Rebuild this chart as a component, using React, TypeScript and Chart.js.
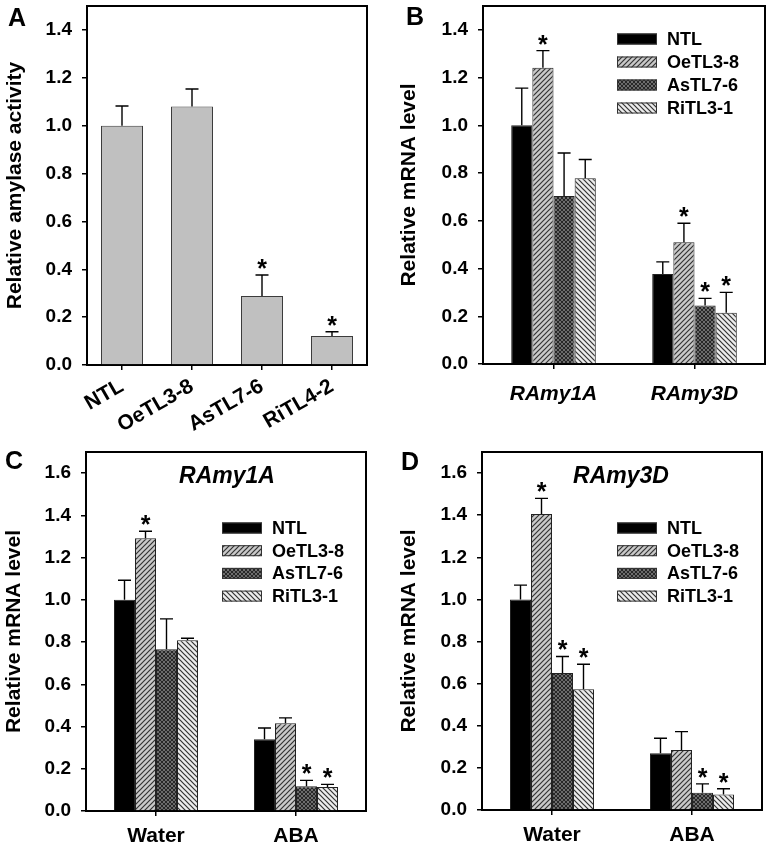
import React, { useEffect, useRef } from 'react';
import { Chart, registerables } from 'chart.js';

Chart.register(...registerables);

const FONT = '"Liberation Sans", Arial, Helvetica, sans-serif';

// ---------- Data ----------
const seriesNames = ['NTL', 'OeTL3-8', 'AsTL7-6', 'RiTL3-1'];

// Panel A
const aCategories = ['NTL', 'OeTL3-8', 'AsTL7-6', 'RiTL4-2'];
const aValues = [1.0, 1.08, 0.288, 0.121];
const aErrors = [0.082, 0.073, 0.088, 0.018];
const aSignificant = [false, false, true, true];

// Panel B (rows follow seriesNames)
const bCategories = ['RAmy1A', 'RAmy3D'];
const bValues = [[1.0, 0.377], [1.241, 0.51], [0.704, 0.245], [0.778, 0.215]];
const bErrors = [[0.156, 0.051], [0.072, 0.08], [0.18, 0.03], [0.079, 0.085]];
const bSignificant = [[false, false], [true, true], [false, true], [false, true]];

// Panel C (RAmy1A)
const cCategories = ['Water', 'ABA'];
const cValues = [[1.0, 0.34], [1.292, 0.415], [0.766, 0.117], [0.809, 0.114]];
const cErrors = [[0.093, 0.053], [0.033, 0.026], [0.144, 0.028], [0.009, 0.012]];
const cSignificant = [[false, false], [true, false], [false, true], [false, true]];

// Panel D (RAmy3D)
const dCategories = ['Water', 'ABA'];
const dValues = [[1.0, 0.269], [1.405, 0.285], [0.65, 0.082], [0.573, 0.074]];
const dErrors = [[0.068, 0.072], [0.075, 0.087], [0.079, 0.042], [0.119, 0.027]];
const dSignificant = [[false, false], [true, false], [true, true], [true, true]];

const yTickStep = 0.2;

// ---------- Patterns ----------
function makePattern(kind: string): any {
  if (kind === 'solid') return '#000000';
  if (kind === 'grey') return '#c0c0c0';
  const s = kind === 'cross' ? 4 : 5;
  const c = document.createElement('canvas');
  c.width = s;
  c.height = s;
  const g = c.getContext('2d')!;
  const bg = kind === 'fwd' ? '#c9c9c9' : kind === 'cross' ? '#8c8c8c' : '#ececec';
  const fg = kind === 'cross' ? '#262626' : '#333333';
  g.fillStyle = bg;
  g.fillRect(0, 0, s, s);
  g.strokeStyle = fg;
  g.lineWidth = 1.2;
  const fwd = () => {
    g.beginPath();
    g.moveTo(-1, 1); g.lineTo(1, -1);
    g.moveTo(0, s); g.lineTo(s, 0);
    g.moveTo(s - 1, s + 1); g.lineTo(s + 1, s - 1);
    g.stroke();
  };
  const back = () => {
    g.beginPath();
    g.moveTo(-1, s - 1); g.lineTo(1, s + 1);
    g.moveTo(0, 0); g.lineTo(s, s);
    g.moveTo(s - 1, -1); g.lineTo(s + 1, 1);
    g.stroke();
  };
  if (kind === 'fwd') fwd();
  else if (kind === 'back') back();
  else { fwd(); back(); }
  return g.createPattern(c, 'repeat');
}

const seriesFills = ['solid', 'fwd', 'cross', 'back'];

// ---------- Plugins ----------
function errorBarPlugin(cap: number) {
  return {
    id: 'errorBars',
    afterDatasetsDraw(chart: any) {
      const ctx = chart.ctx;
      const ys = chart.scales.y;
      chart.data.datasets.forEach((ds: any, i: number) => {
        const meta = chart.getDatasetMeta(i);
        meta.data.forEach((bar: any, j: number) => {
          const v = ds.data[j];
          const e = ds.errorPlus[j];
          const top = ys.getPixelForValue(v + e);
          const x = bar.x;
          ctx.save();
          ctx.strokeStyle = '#000';
          ctx.lineWidth = 1.4;
          ctx.beginPath();
          ctx.moveTo(x, bar.y);
          ctx.lineTo(x, top);
          ctx.moveTo(x - cap / 2, top);
          ctx.lineTo(x + cap / 2, top);
          ctx.stroke();
          if (ds.significant[j]) {
            ctx.fillStyle = '#000';
            ctx.font = `bold 25px ${FONT}`;
            ctx.textAlign = 'center';
            ctx.textBaseline = 'alphabetic';
            ctx.fillText('*', x, top + 2);
          }
          ctx.restore();
        });
      });
    },
  };
}

function decorPlugin(spec: any) {
  return {
    id: 'decor',
    afterDraw(chart: any) {
      const ctx = chart.ctx;
      const a = chart.chartArea;
      ctx.save();
      // box: top and right edges
      ctx.strokeStyle = '#000';
      ctx.lineWidth = 2;
      ctx.beginPath();
      ctx.moveTo(a.left - 1, a.top);
      ctx.lineTo(a.right, a.top);
      ctx.lineTo(a.right, a.bottom + 1);
      ctx.stroke();
      // panel letter
      ctx.fillStyle = '#000';
      ctx.font = `bold 25px ${FONT}`;
      ctx.textAlign = 'left';
      ctx.textBaseline = 'alphabetic';
      ctx.fillText(spec.letter, spec.letterX, spec.letterY);
      // heading
      if (spec.heading) {
        ctx.font = `italic bold 23px ${FONT}`;
        ctx.textAlign = 'center';
        ctx.textBaseline = 'middle';
        ctx.fillText(spec.heading, spec.headingX, spec.headingY);
      }
      // legend
      if (spec.legend) {
        const L = spec.legend;
        chart.data.datasets.forEach((ds: any, i: number) => {
          const cy = L.y + i * L.dy;
          ctx.fillStyle = ds.backgroundColor;
          ctx.fillRect(L.x, cy - L.h / 2, L.w, L.h);
          ctx.strokeStyle = '#333';
          ctx.lineWidth = 1;
          ctx.strokeRect(L.x + 0.5, cy - L.h / 2 + 0.5, L.w - 1, L.h - 1);
          ctx.fillStyle = '#000';
          ctx.font = `bold 18px ${FONT}`;
          ctx.textAlign = 'left';
          ctx.textBaseline = 'middle';
          ctx.fillText(ds.label, L.textX, cy + 1);
        });
      }
      ctx.restore();
    },
  };
}

// ---------- Panel specs ----------
const specs: any[] = [
  {
    key: 'A', left: 0, top: 0, width: 384, height: 440,
    yAxisWidth: 87, xAxisHeight: 75, padTop: 6, padRight: 17,
    yMax: 1.5, yTitle: 'Relative amylase activity', titlePad: 3,
    xRotation: 30, xPad: 4, xItalic: false, cap: 13,
    letter: 'A', letterX: 8, letterY: 26,
    barPct: 0.6, catPct: 1.0,
  },
  {
    key: 'B', left: 384, top: 0, width: 384, height: 440,
    yAxisWidth: 99, xAxisHeight: 76, padTop: 6, padRight: 3,
    yMax: 1.5, yTitle: 'Relative mRNA level', titlePad: 13,
    xRotation: 0, xPad: 13, xItalic: true, cap: 13,
    letter: 'B', letterX: 22, letterY: 25,
    legend: { x: 233, y: 39, dy: 23, w: 40, h: 11, textX: 283 },
    barPct: 1.0, catPct: 0.6,
  },
  {
    key: 'C', left: 0, top: 420, width: 384, height: 432,
    yAxisWidth: 86, xAxisHeight: 41, padTop: 32, padRight: 18,
    yMax: 1.7, yTitle: 'Relative mRNA level', titlePad: 2,
    xRotation: 0, xPad: 8, xItalic: false, cap: 13,
    letter: 'C', letterX: 5, letterY: 49,
    heading: 'RAmy1A', headingX: 227, headingY: 57,
    legend: { x: 222, y: 108, dy: 22.7, w: 40, h: 11, textX: 272 },
    barPct: 1.0, catPct: 0.6,
  },
  {
    key: 'D', left: 384, top: 420, width: 384, height: 432,
    yAxisWidth: 98, xAxisHeight: 42, padTop: 32, padRight: 6,
    yMax: 1.7, yTitle: 'Relative mRNA level', titlePad: 13,
    xRotation: 0, xPad: 8, xItalic: false, cap: 13,
    letter: 'D', letterX: 17, letterY: 50,
    heading: 'RAmy3D', headingX: 237, headingY: 57,
    legend: { x: 233, y: 108, dy: 22.7, w: 40, h: 11, textX: 283 },
    barPct: 1.0, catPct: 0.6,
  },
];

function buildData(key: string) {
  if (key === 'A') {
    return {
      labels: aCategories,
      datasets: [{
        label: 'Relative amylase activity',
        data: aValues,
        errorPlus: aErrors,
        significant: aSignificant,
        backgroundColor: makePattern('grey'),
        borderColor: '#3c3c3c',
        borderWidth: 1,
      }],
    };
  }
  const src: any = {
    B: [bCategories, bValues, bErrors, bSignificant],
    C: [cCategories, cValues, cErrors, cSignificant],
    D: [dCategories, dValues, dErrors, dSignificant],
  }[key];
  return {
    labels: src[0],
    datasets: seriesNames.map((name, i) => ({
      label: name,
      data: src[1][i],
      errorPlus: src[2][i],
      significant: src[3][i],
      backgroundColor: makePattern(seriesFills[i]),
      borderColor: '#222',
      borderWidth: 1,
    })),
  };
}

function buildOptions(s: any) {
  return {
    responsive: false,
    animation: false,
    devicePixelRatio: 1,
    layout: { padding: { left: 0, top: s.padTop, right: s.padRight, bottom: 0 } },
    datasets: { bar: { barPercentage: s.barPct, categoryPercentage: s.catPct } },
    plugins: { legend: { display: false }, tooltip: { enabled: false }, title: { display: false } },
    scales: {
      x: {
        type: 'category',
        offset: true,
        grid: { display: true, drawOnChartArea: false, drawTicks: true, tickLength: 5, offset: false, color: '#000', lineWidth: 1.5 },
        border: { display: true, color: '#000', width: 2 },
        ticks: {
          color: '#000',
          autoSkip: false,
          maxRotation: s.xRotation,
          minRotation: s.xRotation,
          padding: s.xPad,
          font: { family: FONT, size: 21, weight: 'bold', style: s.xItalic ? 'italic' : 'normal' },
        },
        afterFit: (sc: any) => {
          sc.height = s.xAxisHeight;
          sc.paddingLeft = 0; sc.paddingRight = 0; sc.paddingTop = 0; sc.paddingBottom = 0;
        },
      },
      y: {
        min: 0,
        max: s.yMax,
        grid: { display: true, drawOnChartArea: false, drawTicks: true, tickLength: 5, color: '#000', lineWidth: 1.5 },
        border: { display: true, color: '#000', width: 2 },
        ticks: {
          stepSize: yTickStep,
          includeBounds: false,
          color: '#000',
          padding: 10,
          font: { family: FONT, size: 19, weight: 'bold' },
          callback: (v: any) => Number(v).toFixed(1),
        },
        title: {
          display: true,
          text: s.yTitle,
          color: '#000',
          font: { family: FONT, size: 21, weight: 'bold' },
          padding: { top: s.titlePad, bottom: 0 },
        },
        afterFit: (sc: any) => {
          sc.width = s.yAxisWidth;
          sc.paddingLeft = 0; sc.paddingRight = 0; sc.paddingTop = 0; sc.paddingBottom = 0;
        },
      },
    },
  };
}

function Panel({ spec }: { spec: any }) {
  const ref = useRef<HTMLCanvasElement | null>(null);
  useEffect(() => {
    if (!ref.current) return;
    const chart = new Chart(ref.current, {
      type: 'bar',
      data: buildData(spec.key) as any,
      options: buildOptions(spec) as any,
      plugins: [errorBarPlugin(spec.cap), decorPlugin(spec)],
    });
    return () => chart.destroy();
  }, [spec]);
  return (
    <canvas
      ref={ref}
      width={spec.width}
      height={spec.height}
      style={{ position: 'absolute', left: spec.left, top: spec.top, width: spec.width, height: spec.height }}
    />
  );
}

export default function App() {
  return (
    <div style={{ position: 'absolute', left: 0, top: 0, width: 768, height: 852, background: '#fff', overflow: 'hidden' }}>
      {specs.map((s) => (
        <Panel key={s.key} spec={s} />
      ))}
    </div>
  );
}
